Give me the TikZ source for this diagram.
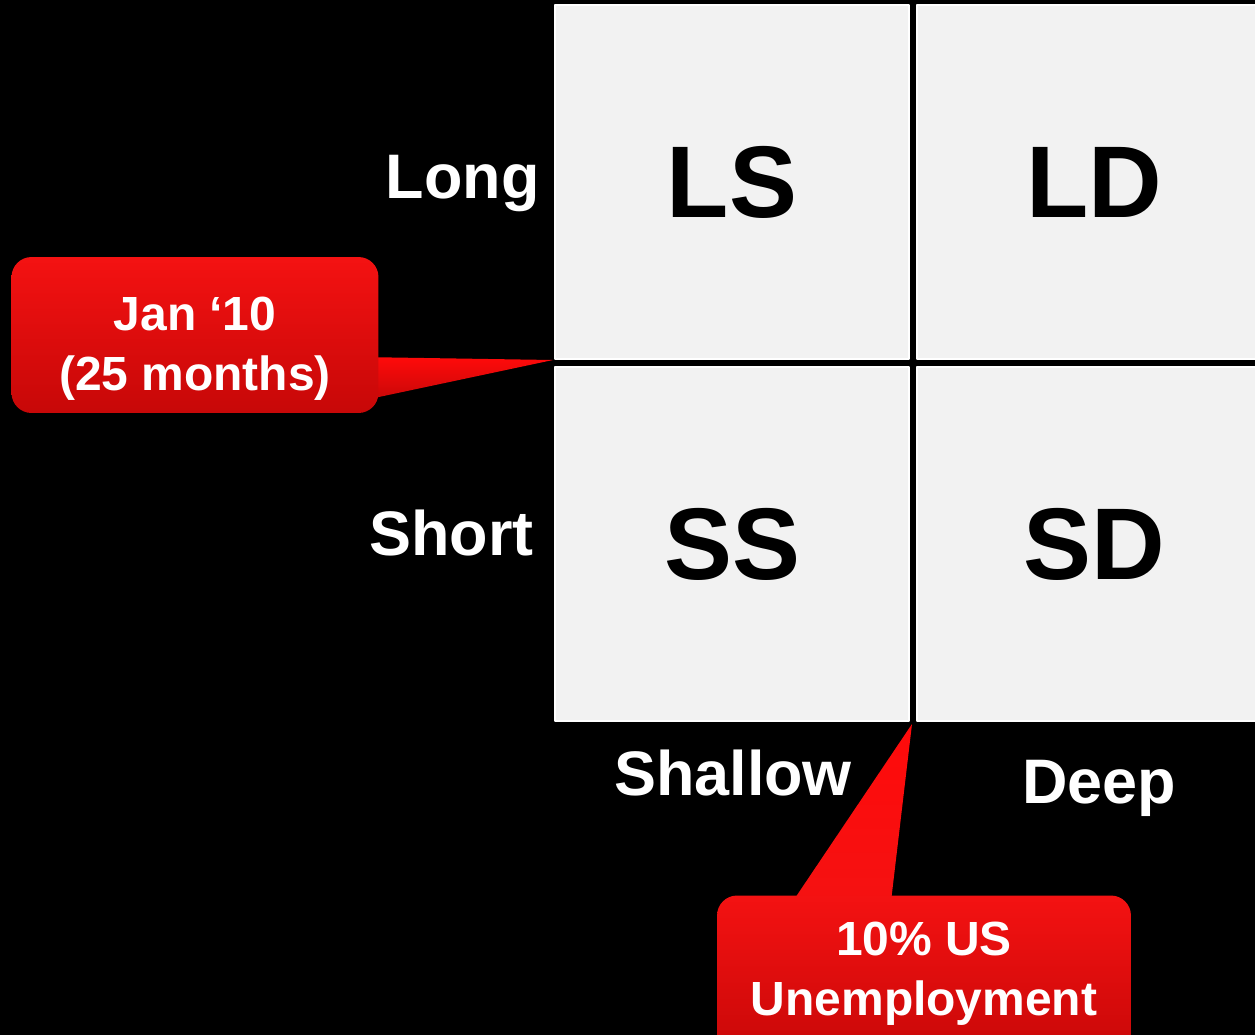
\documentclass[tikz,border=0pt]{standalone}
\usepackage{fontspec}
\setmainfont{Liberation Sans}
\usepackage{tikz}
\usetikzlibrary{calc}
\definecolor{fsfsfs}{rgb}{0.949,0.949,0.949}
\definecolor{ffqqqq}{rgb}{1.,0.04,0.04}
\definecolor{fusrsr}{rgb}{0.957,0.07,0.07}
\definecolor{cyqyqy}{rgb}{0.78,0.03,0.03}
\tikzstyle{every node}=[font=\bfseries]
\tikzset{
  cell/.style={draw=white,line width=1.2pt,fill=fsfsfs,text=black,inner sep=0pt,
    minimum width=7.08cm,minimum height=7.08cm,font=\bfseries\fontsize{58}{60}\selectfont},
  axislabel/.style={text=white,inner sep=0pt,font=\bfseries\fontsize{35.8}{40}\selectfont},
  callout/.style={rounded corners=0.4cm,top color=fusrsr,bottom color=cyqyqy,inner sep=0pt},
  calltext/.style={text=white,align=center,inner sep=0pt,font=\bfseries\fontsize{27.3}{34}\selectfont}
}

\begin{document}
\begin{tikzpicture}[line cap=round,line join=round,x=0.02cm,y=-0.02cm]
\useasboundingbox (0,0) rectangle (1255,1035);
\fill [black] (0,0) rectangle (1255,1035);
\clip (0,0) rectangle (1255,1035);
% the four cells
\node [cell] (LS) at (732,182) {LS};
\node [cell] (LD) at (1094,182) {LD};
\node [cell] (SS) at (732,544) {SS};
\node [cell] (SD) at (1094,544) {SD};
% axis labels
\node [axislabel,anchor=base east] (long) at (540,198) {Long};
\node [axislabel,anchor=base east] (short) at (534,555) {Short};
\node [axislabel,anchor=base] (shallow) at (733,795) {Shallow};
\node [axislabel,anchor=base] (deep) at (1099,803) {Deep};
% callouts
\coordinate (tipjan) at (553,360);
\coordinate (tipus) at (912,724);
\shade [top color=ffqqqq,bottom color=cyqyqy] (360,357) -- (tipjan) -- (360,401) -- cycle;
\node [callout,minimum width=7.34cm,minimum height=3.12cm] (janbox) at (195,335) {};
\node [calltext] (jantext) at ($(janbox.center)+(0,14)$) {Jan ‘10\\(25 months)};
\shade [top color=ffqqqq,bottom color=fusrsr] (787,910) -- (tipus) -- (890,910) -- cycle;
\node [callout,minimum width=8.28cm,minimum height=3.3cm] (usbox) at (924,978) {};
\node [calltext] (ustext) at (924,974) {10\% US\\Unemployment};
\end{tikzpicture}
\end{document}
